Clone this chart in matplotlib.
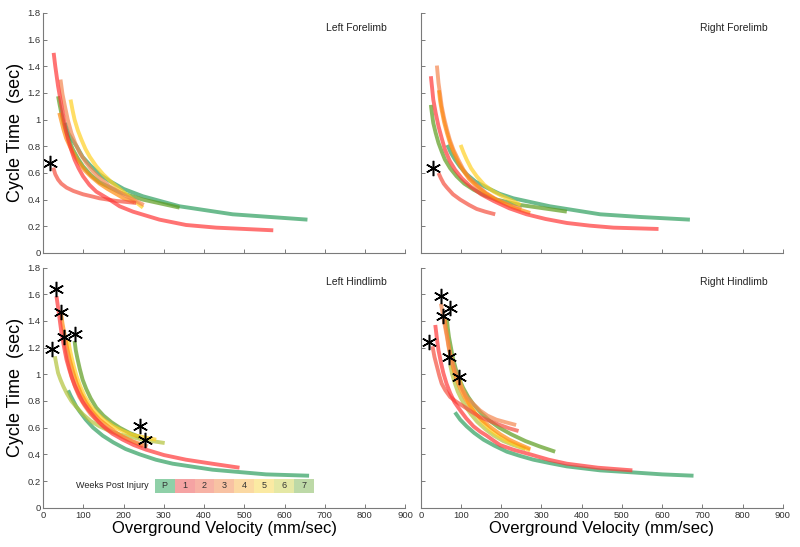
import numpy as np
import matplotlib.pyplot as plt
from matplotlib.patches import Rectangle

plt.rcParams['font.family'] = ['Liberation Sans', 'DejaVu Sans']

weeks = ['P', '1', '2', '3', '4', '5', '6', '7']
line_colors = {'P': '#2e9e5e', '1': '#ff3838', '2': '#f5503f', '3': '#f5874f',
               '4': '#ff8c10', '5': '#ffd024', '6': '#b2c23a', '7': '#5c9c1e'}
legend_colors = ['#8fd0a8', '#f5a3a3', '#f7b2a5', '#f8c2a3', '#fbd9a3', '#fbeaa3', '#e5e8a5', '#bdd9a7']

# left forelimb curves (week, velocity, cycle time)
lf_curves = [
    ('P', [54, 62, 72, 83, 98, 116, 140, 165, 200, 248, 339, 471, 657],
     [0.975, 0.90, 0.85, 0.80, 0.72, 0.66, 0.59, 0.54, 0.48, 0.425, 0.35, 0.29, 0.25]),
    ('7', [37, 41, 45, 51, 58, 66, 74, 86, 99, 118, 140, 190, 248, 339],
     [1.175, 1.11, 1.05, 0.97, 0.90, 0.83, 0.775, 0.71, 0.65, 0.585, 0.53, 0.455, 0.40, 0.34]),
    ('5', [68, 73, 78, 86, 95, 105, 116, 132, 149, 170, 190, 223, 248],
     [1.15, 1.07, 1.0, 0.92, 0.85, 0.78, 0.72, 0.65, 0.59, 0.53, 0.48, 0.40, 0.34]),
    ('4', [40, 45, 50, 57, 66, 76, 88, 103, 120, 140, 160, 200, 227],
     [1.05, 0.99, 0.93, 0.86, 0.80, 0.74, 0.68, 0.62, 0.57, 0.52, 0.48, 0.41, 0.38]),
    ('3', [43, 48, 54, 61, 70, 80, 91, 106, 124, 145, 165, 207, 250],
     [1.30, 1.19, 1.10, 1.0, 0.90, 0.82, 0.75, 0.68, 0.61, 0.55, 0.50, 0.425, 0.36]),
    ('2', [25, 30, 37, 45, 58, 75, 99, 120, 140, 182, 231],
     [0.64, 0.59, 0.55, 0.52, 0.49, 0.465, 0.44, 0.425, 0.41, 0.39, 0.375]),
    ('1', [26, 30, 37, 44, 50, 55, 62, 70, 78, 88, 99, 115, 132, 165, 190, 223, 289, 355, 430, 572],
     [1.50, 1.40, 1.25, 1.13, 1.025, 0.94, 0.85, 0.77, 0.70, 0.635, 0.575, 0.51, 0.46, 0.40, 0.35, 0.31, 0.25, 0.21, 0.19, 0.17]),
]
lf_stars_x = [16]
lf_stars_y = [0.675]

# right forelimb
rf_curves = [
    ('P', [66, 75, 85, 98, 114, 136, 164, 195, 230, 321, 446, 545, 669],
     [0.81, 0.75, 0.70, 0.645, 0.59, 0.535, 0.49, 0.445, 0.41, 0.35, 0.29, 0.27, 0.25]),
    ('7', [25, 28, 31, 37, 44, 52, 60, 73, 89, 108, 131, 160, 189, 247, 363],
     [1.11, 1.04, 0.975, 0.90, 0.825, 0.76, 0.70, 0.635, 0.575, 0.52, 0.475, 0.43, 0.40, 0.36, 0.31]),
    ('5', [99, 106, 114, 125, 139, 158, 181, 200, 222, 248],
     [0.81, 0.755, 0.70, 0.635, 0.575, 0.51, 0.46, 0.43, 0.40, 0.36]),
    ('3', [40, 42, 44, 48, 52, 58, 65, 72, 81, 93, 106, 120, 139, 162, 189, 220, 250],
     [1.405, 1.34, 1.275, 1.19, 1.10, 1.01, 0.925, 0.85, 0.775, 0.70, 0.625, 0.565, 0.51, 0.45, 0.40, 0.36, 0.33]),
    ('4', [45, 48, 52, 58, 65, 72, 81, 93, 106, 120, 139, 162, 189, 230, 272],
     [1.22, 1.14, 1.07, 0.98, 0.90, 0.83, 0.76, 0.68, 0.615, 0.555, 0.50, 0.445, 0.395, 0.34, 0.30]),
    ('2', [44, 50, 57, 65, 80, 98, 120, 139, 160, 185],
     [0.60, 0.56, 0.52, 0.49, 0.44, 0.40, 0.36, 0.33, 0.31, 0.29]),
    ('1', [25, 28, 31, 37, 44, 52, 60, 72, 85, 102, 123, 150, 181, 220, 263, 310, 363, 420, 479, 591],
     [1.325, 1.24, 1.15, 1.05, 0.95, 0.86, 0.775, 0.69, 0.625, 0.56, 0.50, 0.44, 0.39, 0.335, 0.29, 0.255, 0.225, 0.205, 0.19, 0.18]),
]
rf_stars_x = [31]
rf_stars_y = [0.64]

# left hindlimb
lh_curves = [
    ('P', [62, 68, 75, 82, 91, 106, 124, 148, 174, 205, 240, 280, 322, 421, 554, 661],
     [0.88, 0.84, 0.80, 0.76, 0.72, 0.66, 0.60, 0.54, 0.49, 0.44, 0.40, 0.36, 0.33, 0.285, 0.25, 0.24]),
    ('6', [29, 33, 37, 43, 50, 59, 70, 84, 99, 118, 140, 165, 190, 248, 302],
     [1.135, 1.07, 1.01, 0.96, 0.91, 0.855, 0.80, 0.75, 0.70, 0.65, 0.61, 0.575, 0.55, 0.51, 0.485]),
    ('7', [78, 81, 85, 91, 98, 107, 118, 132, 150, 170, 190, 215, 240],
     [1.25, 1.18, 1.12, 1.04, 0.96, 0.89, 0.82, 0.75, 0.69, 0.64, 0.60, 0.56, 0.53]),
    ('5', [62, 66, 70, 76, 83, 92, 103, 116, 132, 152, 174, 198, 223, 281],
     [1.26, 1.19, 1.135, 1.06, 0.985, 0.91, 0.835, 0.77, 0.71, 0.655, 0.61, 0.575, 0.545, 0.51]),
    ('4', [44, 48, 54, 60, 66, 74, 83, 94, 107, 122, 140, 165, 190, 220, 248],
     [1.47, 1.38, 1.285, 1.19, 1.11, 1.02, 0.935, 0.855, 0.785, 0.72, 0.66, 0.60, 0.545, 0.50, 0.46]),
    ('3', [52, 56, 60, 66, 72, 80, 90, 103, 118, 138, 160, 185, 210, 260],
     [1.27, 1.19, 1.12, 1.04, 0.97, 0.90, 0.83, 0.765, 0.70, 0.64, 0.59, 0.55, 0.51, 0.46]),
    ('1', [33, 37, 41, 45, 50, 54, 58, 64, 70, 78, 87, 98, 112, 130, 149, 172, 198, 225, 256, 300, 355, 420, 488],
     [1.585, 1.50, 1.41, 1.32, 1.235, 1.17, 1.11, 1.045, 0.985, 0.92, 0.86, 0.795, 0.735, 0.67, 0.61, 0.555, 0.51, 0.47, 0.435, 0.395, 0.36, 0.33, 0.30]),
]
lh_stars_x = [31, 44, 52, 78, 21, 241, 252]
lh_stars_y = [1.64, 1.47, 1.28, 1.30, 1.19, 0.61, 0.51]

# right hindlimb
rh_curves = [
    ('P', [85, 98, 114, 133, 156, 183, 214, 245, 280, 320, 363, 446, 526, 600, 678],
     [0.715, 0.66, 0.61, 0.56, 0.51, 0.465, 0.42, 0.39, 0.36, 0.335, 0.31, 0.28, 0.265, 0.25, 0.24]),
    ('7', [65, 67, 70, 75, 80, 87, 95, 105, 118, 132, 150, 170, 195, 225, 260, 295, 334],
     [1.41, 1.35, 1.28, 1.20, 1.12, 1.04, 0.97, 0.90, 0.83, 0.77, 0.71, 0.655, 0.60, 0.55, 0.50, 0.46, 0.42]),
    ('6', [73, 78, 85, 92, 100, 111, 125, 140, 160, 182, 205, 230, 260],
     [1.07, 1.0, 0.93, 0.87, 0.82, 0.76, 0.70, 0.645, 0.59, 0.54, 0.50, 0.47, 0.44]),
    ('5', [96, 102, 110, 121, 135, 151, 170, 192, 215, 242, 272],
     [0.96, 0.90, 0.84, 0.775, 0.71, 0.65, 0.59, 0.54, 0.50, 0.465, 0.43]),
    ('4', [60, 62, 66, 70, 75, 81, 88, 97, 108, 120, 135, 153, 175, 198, 220, 245, 272],
     [1.42, 1.35, 1.28, 1.20, 1.12, 1.04, 0.97, 0.90, 0.83, 0.77, 0.71, 0.655, 0.60, 0.55, 0.51, 0.475, 0.44]),
    ('3', [50, 53, 56, 60, 65, 70, 77, 85, 94, 103, 114, 130, 147, 166, 188, 212, 237],
     [1.53, 1.48, 1.43, 1.36, 1.28, 1.19, 1.11, 1.03, 0.96, 0.89, 0.83, 0.78, 0.73, 0.69, 0.66, 0.64, 0.62]),
    ('2', [29, 34, 40, 46, 52, 61, 73, 88, 106, 126, 147, 172, 197, 220, 243],
     [1.21, 1.13, 1.06, 0.99, 0.93, 0.88, 0.83, 0.795, 0.76, 0.72, 0.68, 0.65, 0.62, 0.595, 0.575]),
    ('1', [36, 40, 44, 50, 56, 64, 73, 84, 98, 113, 131, 148, 164, 180, 197, 230, 272, 318, 363, 440, 526],
     [1.37, 1.27, 1.18, 1.09, 1.01, 0.93, 0.86, 0.79, 0.73, 0.67, 0.61, 0.57, 0.54, 0.505, 0.47, 0.435, 0.40, 0.36, 0.33, 0.30, 0.28]),
]
rh_stars_x = [50, 73, 55, 21, 71, 96]
rh_stars_y = [1.59, 1.50, 1.44, 1.245, 1.13, 0.98]

panels = [
    ('Left Forelimb', lf_curves, lf_stars_x, lf_stars_y, [0.054, 0.5375, 0.4525, 0.439]),
    ('Right Forelimb', rf_curves, rf_stars_x, rf_stars_y, [0.526, 0.5375, 0.4525, 0.439]),
    ('Left Hindlimb', lh_curves, lh_stars_x, lh_stars_y, [0.054, 0.0718, 0.4525, 0.439]),
    ('Right Hindlimb', rh_curves, rh_stars_x, rh_stars_y, [0.526, 0.0718, 0.4525, 0.439]),
]

fig = plt.figure(figsize=(8, 5.47), dpi=100)

for i, (title, curves, sx, sy, pos) in enumerate(panels):
    ax = fig.add_axes(pos)
    for wk, xs, ys in curves:
        ax.plot(xs, ys, color=line_colors[wk], lw=2.8, alpha=0.7, solid_capstyle='butt', solid_joinstyle='round')
    ax.plot(sx, sy, ls='none', marker=(6, 2, 0), ms=11, mew=1.1, color='k')
    ax.set_xlim(0, 900)
    ax.set_ylim(0, 1.8)
    ax.set_xticks(np.arange(0, 901, 100))
    ax.set_yticks(np.arange(0, 1.81, 0.2))
    ax.set_yticklabels(['0', '0.2', '0.4', '0.6', '0.8', '1', '1.2', '1.4', '1.6', '1.8'])
    for s in ['top', 'right']:
        ax.spines[s].set_visible(False)
    for s in ['left', 'bottom']:
        ax.spines[s].set_color('#7a7a7a')
        ax.spines[s].set_linewidth(0.8)
    ax.tick_params(direction='in', length=3, width=0.7, color='#7a7a7a',
                   labelsize=6.8, labelcolor='#333333', pad=2)
    ax.text(855 if i % 2 == 0 else 862, 1.69, title, ha='right', va='center', fontsize=7.5, color='#222222')
    if i % 2 == 1:
        ax.tick_params(labelleft=False)
    else:
        ax.set_ylabel('Cycle Time  (sec)', fontsize=13, labelpad=2)
    if i < 2:
        ax.tick_params(labelbottom=False)
    else:
        ax.set_xlabel('Overground Velocity (mm/sec)', fontsize=12, labelpad=1)
    if i == 2:
        bw = (674 - 277) / len(weeks)
        for j, wk in enumerate(weeks):
            ax.add_patch(Rectangle((277 + j * bw, 0.113), bw, 0.102, color=legend_colors[j], lw=0))
            ax.text(277 + (j + 0.5) * bw, 0.164, wk, ha='center', va='center', fontsize=6.5, color='#333333')
        ax.text(262, 0.164, 'Weeks Post Injury', ha='right', va='center', fontsize=6.5, color='#222222')

fig.savefig('out.png', dpi=100)
